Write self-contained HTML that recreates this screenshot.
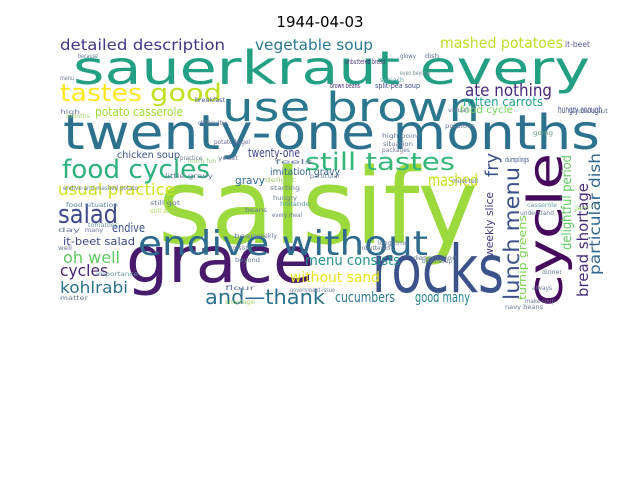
<!DOCTYPE html>
<html><head><meta charset="utf-8"><style>
html,body{margin:0;padding:0;background:#fff;}
svg{display:block;}
#cloud{font-family:"DejaVu Sans","Liberation Sans",sans-serif;}
</style></head><body>
<svg id="chart" width="640" height="480" viewBox="0 0 640 480" xmlns="http://www.w3.org/2000/svg">
<rect width="640" height="480" fill="#fff"/>
<text x="320" y="27" text-anchor="middle" font-size="15" fill="#000" font-family="DejaVu Sans, sans-serif">1944-04-03</text>
<g id="cloud"></g>
</svg>
<script>
// word, font size, colour
const words = ["sauerkraut every","twenty-one months","use brown","salsify","grace","rocks","cycle","endive without","and—thank","detailed description","vegetable soup","mashed potatoes","tastes","good","potato casserole","food cycles","still tastes","chicken soup","twenty-one","imitation gravy","gravy","usual practice","salad","endive","it-beet salad","oh well","cycles","kohlrabi","menu consists","without sand","cucumbers","good many","mashed","ate nothing","rotten carrots","food cycle","hungry enough","fry","lunch menu","weekly slice","turnip greens","delightful period","bread shortage","particular dish","it-beet","dumplings","brown beans","unbuttered bread","split-pea soup","glowy","dish","even beyond","spinach","breakfast","difficulty","potato kugel","much fun","little gravy","endive-and-mashed potato","food situation","still got","still alive","tomatoes","many","beans","bean","weekly","hollande","every meal","starting","hungry","make soup","navy beans","always","dinner","bean soup","description","unbuttered","long time","understand","casserole","must tell","jam","sauerkraut","visual","going","high point","situation","packages","potatoes","importance","government-issue","beyond","shortage","flour","because","menu","high","months","practice","yeast","feels","particular","delight","consists","well","day","matter","split-pea"];
const sizes = [46,48,40,104,64,66,48,34,20,15,15,15,24,24,12,26,24,10,12,10,11,16,26,12,11,16,16,16,14,14,14,14,17,17,12,10,10,18,21,11,11,13,15,15,8,7,7,7,7,6,6,6,6,6,6,6,6,6,6,6,6,6,6,6,6,6,6,6,6,6,6,6,6,6,6,6,6,6,6,6,6,6,6,6,6,6,6,6,6,6,6,6,6,6,6,6,6,6,6,6,6,6,6,6,6,6,6,6,6];
const colors = ["#23a083","#2c728e","#2a788e","#9bd93c","#481a6c","#3b528b","#46085c","#2f6b8e","#2c718e","#453781","#2a788e","#bddf26","#fde725","#c2df23","#a0da39","#2db27d","#35b779","#3b528b","#414487","#31688e","#31688e","#d0e11c","#3e4a89","#3b528b","#3e4989","#5ec962","#482475","#2c728e","#21918c","#e5e419","#2a788e","#26828e","#c8e020","#482878","#1fa088","#75d054","#3e4989","#3b528b","#3b528b","#443983","#7ad151","#5ec962","#472d7b","#31688e","#555a8a","#3b528b","#482878","#46337e","#3e4989","#5b6b8e","#5b6b8e","#6d8e8e","#4ea0a0","#4a5a90","#6a7a9a","#6a6a9a","#8ed070","#6a7a9a","#6a7a9a","#5a8aa0","#6a7a9a","#b0d860","#6a9aa0","#7070a0","#6a7a9a","#7080a0","#6a7a9a","#5a9a9a","#6a7a9a","#6a7a9a","#6a7a9a","#6a7a9a","#6a7a9a","#6a7a9a","#6a7a9a","#6a7a9a","#6a7a9a","#6a7a9a","#6a7a9a","#6a7a9a","#6aa0a0","#6a7a9a","#8ad060","#6a7a9a","#6a7a9a","#6aa080","#6a7a9a","#6a7a9a","#6a7a9a","#6a7a9a","#6a9aa0","#7080a0","#6a7a9a","#a0d070","#6a7a9a","#6a7a9a","#6a7a9a","#6a7a9a","#a0d070","#6a7a9a","#6a7a9a","#6a7a9a","#6a7a9a","#a0d070","#6a7a9a","#6a7a9a","#6a7a9a","#6a7a9a","#6a7a9a"];

// layout: [x, baseline y, text length, rotated(1)]
const layout = [
[73,84,517,0],[63,149,537,0],[222,121,258,0],[158,243,320,0],[126,282,188,0],[372,292,132,0],[562,307,154,1],[138,255,290,0],[205,304,120,0],
[60,50,165,0],[255,50,118,0],[440,48,123,0],[60,101,82,0],[150,101,72,0],[95,116,88,0],[62,178,148,0],[305,170,150,0],[117,158,63,0],[248,157,52,0],[270,175,70,0],[235,184,30,0],[58,195,117,0],[58,223,60,0],[112,232,33,0],[63,245,72,0],[63,263,57,0],[60,276,48,0],[60,293,68,0],[305,265,95,0],[290,282,90,0],[335,302,60,0],[415,302,55,0],[428,186,50,0],[465,96,87,0],[463,106,80,0],[460,113,53,0],[558,113,44,0],
[498,177,24,1],[519,300,133,1],[493,257,65,1],[526,300,85,1],[571,250,95,1],[588,297,114,1],[600,275,122,1],
[565,47,25,0],[505,162,24,0],[330,88,30,0],[345,64,40,0],[375,88,45,0],[400,58,16,0],[425,58,14,0],[400,75,30,0],[380,82,24,0],[195,102,30,0],[198,125,28,0],[214,144,36,0],[188,163,28,0],[165,178,48,0],[63,190,75,0],[66,207,52,0],[150,205,30,0],[150,213,28,0],[88,227,30,0],[85,232,18,0],[245,212,22,0],[234,238,22,0],[255,238,22,0],[280,206,30,0],[272,217,30,0],[270,190,30,0],[273,200,24,0],[525,303,30,0],[505,309,38,0],[532,290,20,0],[542,274,20,0],[422,263,30,0],[413,260,44,0],[358,250,32,0],[378,245,30,0],[520,215,34,0],[527,207,30,0],[452,183,26,0],[575,210,14,0],[570,113,38,0],[448,112,20,0],[533,135,20,0],[382,138,38,0],[383,146,30,0],[382,152,28,0],[445,128,30,0],[96,276,42,0],[290,292,45,0],[235,262,25,0],[225,304,30,0],[225,290,30,0],[78,58,20,0],[60,80,14,0],[60,114,20,0],[66,118,24,0],[180,160,22,0],[218,160,20,0],[275,164,38,0],[310,178,30,0],[265,182,30,0],[230,250,20,0],[58,250,14,0],[58,232,22,0],[60,300,28,0]
];

const g = document.getElementById('cloud');
const NS = 'http://www.w3.org/2000/svg';
for (let i = 0; i < words.length; i++) {
  const L = layout[i]; if (!L) continue;
  const t = document.createElementNS(NS, 'text');
  t.setAttribute('x', L[0]);
  t.setAttribute('y', L[1]);
  t.setAttribute('font-size', sizes[i]);
  t.setAttribute('fill', colors[i]);
  t.setAttribute('textLength', L[2]);
  t.setAttribute('lengthAdjust', 'spacingAndGlyphs');
  if (L[3]) t.setAttribute('transform', 'rotate(-90 ' + L[0] + ' ' + L[1] + ')');
  t.textContent = words[i];
  
  
  g.appendChild(t);
}
</script>
</body></html>
